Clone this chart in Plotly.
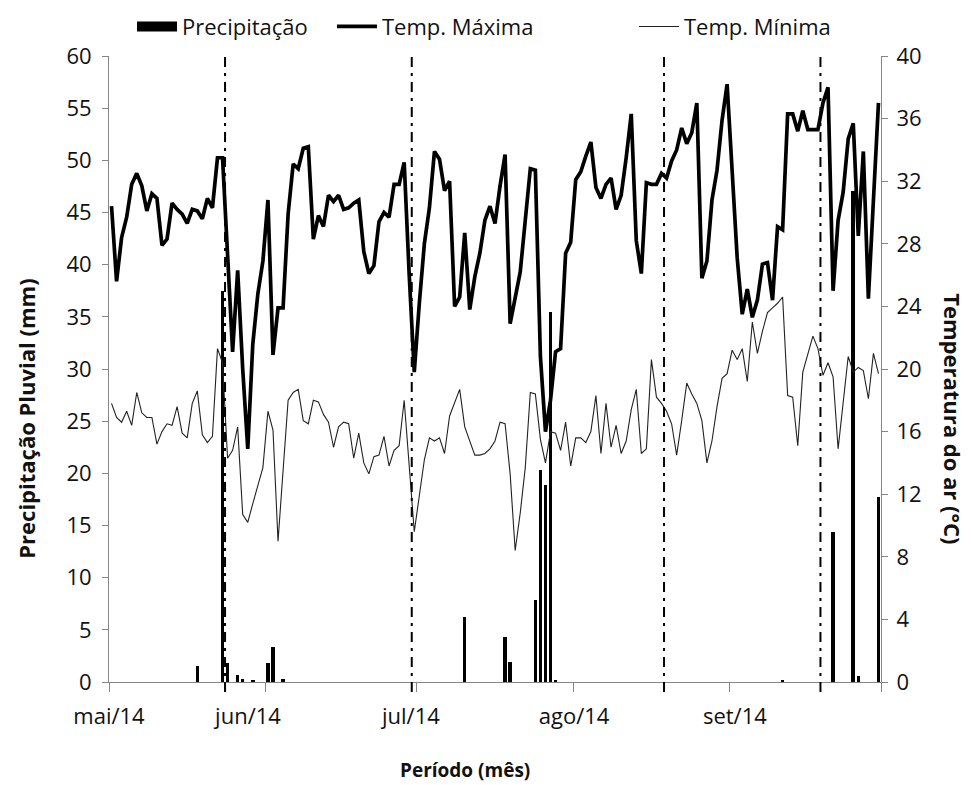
import pandas as pd
import plotly.graph_objects as go

# ---------------- data ----------------
start_date = "2014-05-01"
end_date = "2014-09-30"

temp_max = [
    30.4, 25.6, 28.4, 29.7, 31.8, 32.5, 31.7, 30.1, 31.2, 30.9,
    27.9, 28.3, 30.6, 30.2, 29.9, 29.3, 30.2, 30.1, 29.6, 30.9,
    30.3, 33.5, 33.5, 27.5, 21.1, 26.3, 20.0, 14.9, 21.6, 24.8,
    26.9, 30.8, 20.9, 23.9, 23.9, 29.9, 33.1, 32.8, 34.1, 34.2,
    28.3, 29.8, 29.1, 31.1, 30.7, 31.1, 30.2, 30.3, 30.6, 30.8,
    27.5, 26.1, 26.6, 29.4, 30.0, 29.7, 31.8, 31.8, 33.2, 26.0,
    19.8, 24.2, 28.0, 30.3, 33.9, 33.4, 31.4, 32.0, 24.0, 24.6,
    28.7, 23.8, 25.9, 27.4, 29.5, 30.4, 29.3, 31.7, 33.7, 22.9,
    24.6, 26.2, 29.5, 32.8, 32.7, 20.8, 16.0, 18.0, 21.1, 21.3,
    27.4, 28.1, 32.1, 32.6, 33.6, 34.5, 31.6, 30.9, 31.8, 32.2,
    30.2, 31.1, 33.5, 36.3, 28.2, 26.1, 31.9, 31.8, 31.8, 32.5,
    32.2, 33.3, 34.0, 35.4, 34.4, 35.1, 37.0, 25.8, 26.9, 30.8,
    32.7, 35.9, 38.2, 33.1, 27.1, 23.5, 25.1, 23.3, 24.4, 26.7,
    26.8, 24.4, 29.1, 28.9, 36.3, 36.3, 35.2, 36.5, 35.3, 35.3,
    35.3, 37.0, 38.0, 25.0, 29.5, 31.3, 34.7, 35.7, 28.5, 33.9,
    24.5, 30.8, 37.0,
]

temp_min = [
    17.8, 16.9, 16.6, 17.3, 16.4, 18.5, 17.2, 16.9, 16.9, 15.2,
    16.0, 16.5, 16.4, 17.6, 15.9, 15.6, 17.8, 18.6, 15.8, 15.3,
    15.7, 21.3, 20.4, 14.3, 14.8, 16.3, 10.7, 10.2, 11.4, 12.5,
    13.7, 17.3, 16.1, 9.0, 13.5, 18.0, 18.5, 18.7, 16.7, 16.5,
    18.0, 17.9, 17.1, 16.6, 15.0, 16.3, 16.6, 16.5, 14.3, 15.9,
    14.0, 13.3, 14.4, 14.5, 15.7, 13.8, 14.8, 15.1, 18.0, 13.7,
    9.6, 11.9, 14.2, 15.6, 15.4, 15.6, 14.6, 17.0, 17.8, 18.7,
    16.3, 15.4, 14.5, 14.5, 14.6, 14.9, 15.4, 16.6, 16.5, 13.3,
    8.4, 10.8, 13.7, 18.5, 18.4, 15.5, 14.0, 16.0, 15.9, 14.8,
    16.6, 13.8, 15.6, 15.6, 15.3, 16.0, 18.3, 14.6, 17.8, 15.0,
    16.4, 14.6, 15.4, 17.4, 18.7, 14.6, 14.9, 20.6, 18.2, 17.8,
    17.3, 16.5, 14.5, 16.7, 19.1, 18.4, 17.8, 16.7, 14.0, 15.4,
    17.6, 19.4, 19.7, 21.2, 20.6, 21.3, 19.2, 23.0, 21.0, 22.4,
    23.6, 23.9, 24.2, 24.6, 18.3, 18.2, 15.1, 19.8, 21.0, 22.1,
    21.3, 19.6, 20.4, 19.5, 14.9, 17.8, 20.8, 19.8, 20.1, 19.9,
    18.1, 21.0, 19.7,
]

rain_dates = [
    "2014-05-18", "2014-05-23", "2014-05-24", "2014-05-26", "2014-05-27",
    "2014-05-29", "2014-06-01", "2014-06-02", "2014-06-04", "2014-07-10",
    "2014-07-18", "2014-07-19", "2014-07-24", "2014-07-25", "2014-07-26",
    "2014-07-27", "2014-07-28", "2014-09-11", "2014-09-21", "2014-09-25",
    "2014-09-26", "2014-09-30",
]
rain_mm = [
    1.5, 37.5, 1.8, 0.7, 0.3,
    0.2, 1.8, 3.4, 0.3, 6.2,
    4.3, 1.9, 7.9, 20.3, 18.9,
    35.5, 0.2, 0.2, 14.4, 47.1,
    0.6, 17.7,
]

phase_dates = ["2014-05-24", "2014-06-30", "2014-08-19", "2014-09-19"]

month_labels = ["mai/14", "jun/14", "jul/14", "ago/14", "set/14"]
month_label_pos = ["2014-05-01", "2014-05-28 13:00", "2014-06-29 20:00",
                   "2014-08-01 04:00", "2014-09-02 01:00"]

# ---------------- figure ----------------
half_day = pd.Timedelta(hours=12)
days = pd.date_range(start_date, end_date, freq="D") + half_day
rain_x = pd.to_datetime(rain_dates) + half_day

FONT = "Open Sans"
AX = "#868686"
TXT = "#111111"

fig = go.Figure()

fig.add_trace(go.Bar(
    x=rain_x, y=rain_mm, name="Precipitação", yaxis="y",
    marker=dict(color="black", line=dict(width=0)),
    width=0.7 * 86400000, showlegend=False,
))
# legend entries (one legend box per entry, as spaced in the original)
fig.add_trace(go.Scatter(
    x=[None], y=[None], mode="lines", name="Precipitação",
    line=dict(color="black", width=14), yaxis="y", legend="legend",
))
fig.add_trace(go.Scatter(
    x=days, y=temp_max, mode="lines", name="Temp. Máxima", yaxis="y2",
    line=dict(color="black", width=3.7), legend="legend2",
))
fig.add_trace(go.Scatter(
    x=days, y=temp_min, mode="lines", name="Temp. Mínima", yaxis="y2",
    line=dict(color="#222222", width=1.1), legend="legend3",
))

for d in phase_dates:
    fig.add_shape(type="line", xref="x", yref="paper", x0=d, x1=d,
                  y0=-0.016, y1=1.0,
                  line=dict(color="black", width=2, dash="10px,6px,3px,6px"))

leg_common = dict(orientation="h", xref="container", yref="container",
                  y=0.976, yanchor="middle", xanchor="left",
                  font=dict(size=22, family=FONT, color=TXT),
                  bgcolor="rgba(0,0,0,0)", itemwidth=40)

fig.update_layout(
    width=963, height=777,
    margin=dict(l=101, r=90, t=48, b=103, autoexpand=False),
    plot_bgcolor="white", paper_bgcolor="white",
    font=dict(family=FONT, size=22, color=TXT),
    bargap=0,
    legend=dict(leg_common, x=0.1288),
    legend2=dict(leg_common, x=0.3364),
    legend3=dict(leg_common, x=0.650),
    xaxis=dict(
        type="date", range=["2014-05-01", "2014-10-01"],
        tickvals=month_label_pos, ticktext=month_labels,
        ticks="", showgrid=False, zeroline=False, automargin=False,
        showline=True, linecolor=AX, linewidth=1,
        ticklabelstandoff=15,
        minor=dict(ticks="outside", dtick="M1", tick0="2014-05-01",
                   ticklen=9, tickcolor=AX, tickwidth=1, showgrid=False),
        tickfont=dict(size=22),
    ),
    yaxis=dict(
        range=[0, 60], dtick=5, tick0=0, ticks="outside", ticklen=6,
        tickcolor=AX, showline=True, linecolor=AX, linewidth=1,
        showgrid=False, zeroline=False, ticklabelstandoff=6, automargin=False,
        tickfont=dict(size=22),
    ),
    yaxis2=dict(
        range=[0, 40], dtick=4, tick0=0, ticks="outside", ticklen=6,
        tickcolor=AX, showline=True, linecolor=AX, linewidth=1,
        showgrid=False, zeroline=False, overlaying="y", side="right",
        ticklabelstandoff=4, automargin=False, tickfont=dict(size=22),
    ),
    annotations=[
        dict(text="<b>Precipitação Pluvial (mm)</b>", xref="paper", yref="paper",
             x=-0.108, y=0.42, xanchor="center", yanchor="middle",
             textangle=-90, showarrow=False,
             font=dict(size=22, family=FONT, color=TXT)),
        dict(text="<b>Temperatura do ar (°C)</b>", xref="paper", yref="paper",
             x=1.093, y=0.42, xanchor="center", yanchor="middle",
             textangle=90, showarrow=False,
             font=dict(size=22, family=FONT, color=TXT)),
        dict(text="<b>Período (mês)</b>", xref="paper", yref="paper",
             x=0.461, y=-0.140, xanchor="center", yanchor="middle",
             showarrow=False,
             font=dict(size=19, family=FONT, color=TXT)),
    ],
)

fig.write_html("out.html")
